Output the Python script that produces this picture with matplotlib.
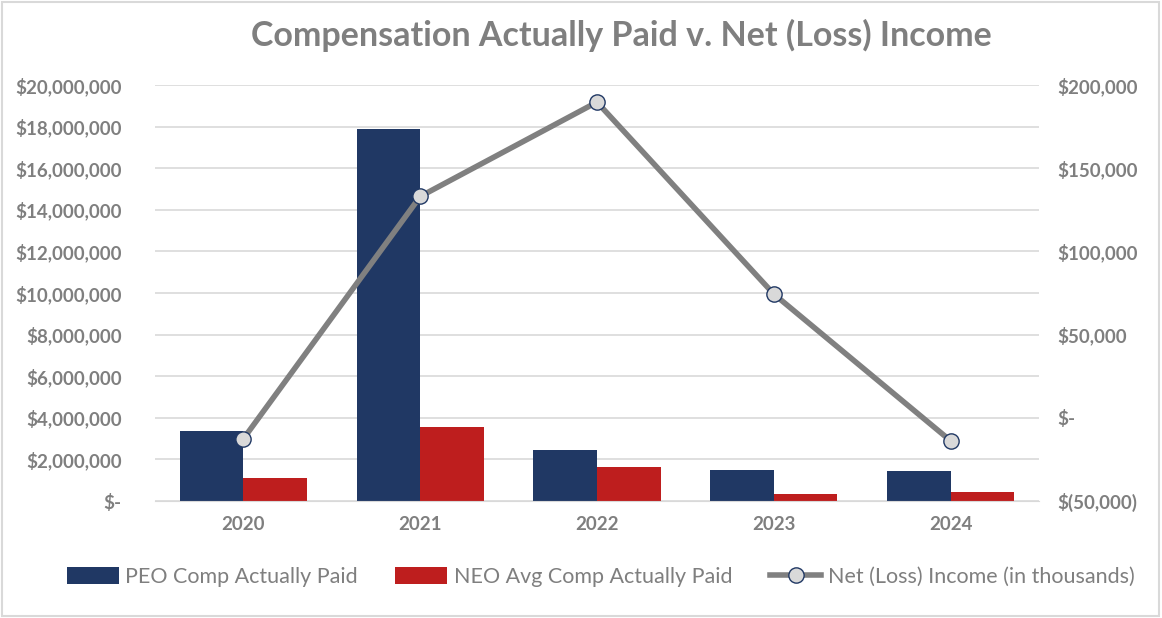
import matplotlib
matplotlib.use("Agg")
import matplotlib.pyplot as plt
import numpy as np
from matplotlib.ticker import FuncFormatter

years = ["2020", "2021", "2022", "2023", "2024"]
peo_cap = [3380000, 17870000, 2450000, 1490000, 1440000]
neo_cap = [1100000, 3560000, 1630000, 340000, 430000]
net_income = [-12600, 133000, 189700, 74400, -13800]

plt.rcParams['font.family'] = ['Lato', 'DejaVu Sans']
gray_txt = '#7F7F7F'

fig = plt.figure(figsize=(11.62, 6.18), dpi=100)
ax = fig.add_axes([0.1334, 0.1893, 0.7607, 0.6732])
ax2 = ax.twinx()

x = np.arange(len(years))
w = 0.36
ax.bar(x - w / 2, peo_cap, w, color='#203864', label='PEO Comp Actually Paid', zorder=2)
ax.bar(x + w / 2, neo_cap, w, color='#BE1E1E', label='NEO Avg Comp Actually Paid', zorder=2)

ax2.plot(x, net_income, color='#808080', lw=4, marker='o', ms=11,
         markerfacecolor='#D9D9D9', markeredgecolor='#203864', markeredgewidth=1,
         label='Net (Loss) Income (in thousands)', zorder=3)

ax.set_xlim(-0.5, len(years) - 0.5)
ax.set_ylim(0, 20000000)
ax.set_yticks(np.arange(0, 20000001, 2000000))
ax2.set_ylim(-50000, 200000)
ax2.set_yticks(np.arange(-50000, 200001, 50000))

def left_fmt(v, pos):
    return '$-' if v == 0 else '${:,.0f}'.format(v)

def right_fmt(v, pos):
    if v == 0:
        return '$-'
    if v < 0:
        return '$({:,.0f})'.format(-v)
    return '${:,.0f}'.format(v)

ax.yaxis.set_major_formatter(FuncFormatter(left_fmt))
ax2.yaxis.set_major_formatter(FuncFormatter(right_fmt))
ax.set_xticks(x)
ax.set_xticklabels(years)

ax.grid(axis='y', color='#D9D9D9', lw=1.2, zorder=0)
ax.set_axisbelow(True)
for a in (ax, ax2):
    for s in a.spines.values():
        s.set_visible(False)
    a.tick_params(length=0, labelsize=13.5, labelcolor=gray_txt)
    for lbl in a.get_yticklabels() + a.get_xticklabels():
        lbl.set_fontweight('bold')
ax.spines['bottom'].set_visible(True)
ax.spines['bottom'].set_color('#D9D9D9')
ax.tick_params(axis='y', pad=24)
ax2.tick_params(axis='y', pad=13)
ax.tick_params(axis='x', pad=11)

fig.text(0.535, 0.942, 'Compensation Actually Paid v. Net (Loss) Income',
         ha='center', va='center', fontsize=24.5, fontweight='bold', color=gray_txt)

h1, l1 = ax.get_legend_handles_labels()
h2, l2 = ax2.get_legend_handles_labels()
fig.legend(h1 + h2, l1 + l2, loc='center', bbox_to_anchor=(0.517, 0.066), ncol=3,
           frameon=False, fontsize=15.5, labelcolor=gray_txt, handlelength=2.4,
           handleheight=0.8, columnspacing=1.75, handletextpad=0.3)

fig.patches.append(plt.Rectangle((0.002, 0.003), 0.995, 0.993, transform=fig.transFigure,
                                 fill=False, edgecolor='#D9D9D9', lw=1.5))

fig.savefig('out.png', dpi=100, facecolor='white')
